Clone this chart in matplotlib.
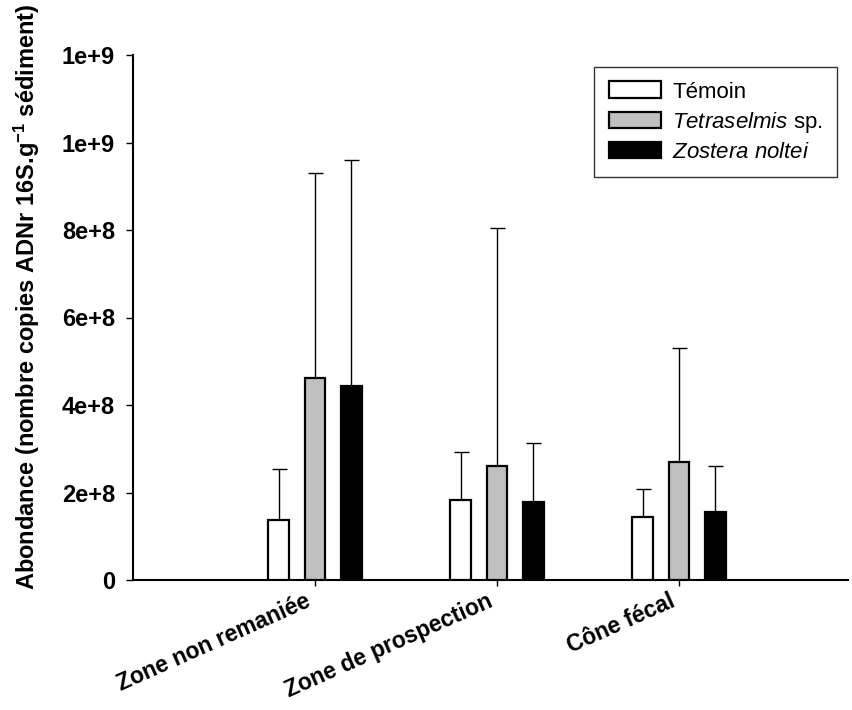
import matplotlib
matplotlib.use("Agg")
import matplotlib.pyplot as plt
import matplotlib.transforms as mtransforms
import numpy as np
from matplotlib.patches import Patch

plt.rcParams['font.family'] = ['Liberation Sans', 'DejaVu Sans']
plt.rcParams['mathtext.fontset'] = 'custom'
plt.rcParams['mathtext.rm'] = 'Liberation Sans:bold'
plt.rcParams['mathtext.bf'] = 'Liberation Sans:bold'
plt.rcParams['mathtext.it'] = 'Liberation Sans:italic'

# ---- data ----
categories = ["Zone non remaniée", "Zone de prospection", "Cône fécal"]
series_names = ["Témoin", r"$\mathit{Tetraselmis}$ sp.", r"$\mathit{Zostera\ noltei}$"]
temoin_mean = [1.37e8, 1.82e8, 1.45e8]
temoin_err = [1.16e8, 1.11e8, 0.63e8]
tetra_mean = [4.61e8, 2.61e8, 2.69e8]
tetra_err = [4.70e8, 5.44e8, 2.61e8]
zostera_mean = [4.44e8, 1.78e8, 1.55e8]
zostera_err = [5.16e8, 1.36e8, 1.06e8]
ytick_values = [0, 2e8, 4e8, 6e8, 8e8, 1.0e9, 1.2e9]
ytick_labels = ["0", "2e+8", "4e+8", "6e+8", "8e+8", "1e+9", "1e+9"]
ylabel = r"Abondance (nombre copies ADNr 16S.g$^{-1}$ sédiment)"

means = [temoin_mean, tetra_mean, zostera_mean]
errs = [temoin_err, tetra_err, zostera_err]
colors = ["white", "#c0c0c0", "black"]

fig = plt.figure(figsize=(8.52, 7.10), dpi=100)
ax = fig.add_axes([133/852, 130/710, (848-133)/852, (580-55)/710])

x = np.arange(1, len(categories) + 1)
offsets = [-0.2, 0.0, 0.2]
width = 0.115
for m, e, c, off in zip(means, errs, colors, offsets):
    ax.errorbar(x + off, m, yerr=[np.zeros(len(m)), e], fmt='none',
                ecolor='black', elinewidth=1.0, capsize=5.4, capthick=1.0, zorder=2)
    ax.bar(x + off, m, width=width, color=c, edgecolor='black', linewidth=1.6, zorder=3)

ax.set_xlim(0, (848-133)/182)
ax.set_ylim(0, 1.2e9)
ax.set_yticks(ytick_values)
ax.set_yticklabels(ytick_labels, fontsize=17, fontweight='bold')
ax.set_xticks(x)
ax.set_xticklabels(categories, fontsize=16.5, fontweight='bold', rotation=24,
                   ha='right', va='top', rotation_mode='anchor')
ax.tick_params(axis='y', direction='out', length=5, width=1.0, pad=8)
ax.tick_params(axis='x', direction='out', length=4, width=1.0, pad=3)
shift = mtransforms.ScaledTranslation(-10/100, 0, fig.dpi_scale_trans)
for lbl in ax.get_xticklabels():
    lbl.set_transform(lbl.get_transform() + shift)

for s in ['top', 'right']:
    ax.spines[s].set_visible(False)
for s in ['left', 'bottom']:
    ax.spines[s].set_linewidth(1.5)

fig.text(27/852, 1 - 297/710, ylabel, rotation=90, ha='center', va='center',
         fontsize=17, fontweight='bold')

handles = [Patch(facecolor=c, edgecolor='black', linewidth=1.6) for c in colors]
leg = ax.legend(handles, series_names, loc='upper right', bbox_to_anchor=(0.985, (580-67)/525),
                fontsize=16, frameon=True, fancybox=False, borderaxespad=0,
                handlelength=2.35, handleheight=0.78, handletextpad=0.5,
                labelspacing=0.32, borderpad=0.65)
leg.get_frame().set_edgecolor('black')
leg.get_frame().set_linewidth(1.0)

fig.savefig("out.png", dpi=100)
